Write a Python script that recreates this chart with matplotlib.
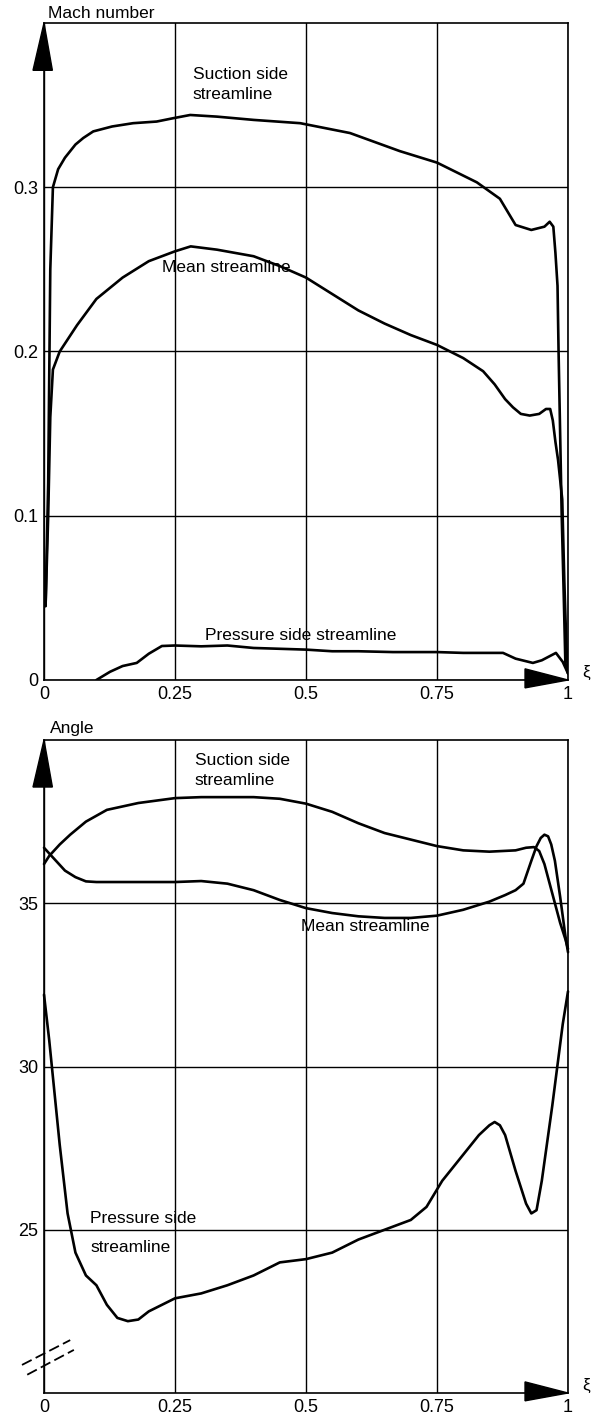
import numpy as np
import matplotlib
matplotlib.use("Agg")
import matplotlib.pyplot as plt
from matplotlib.patches import Polygon
from matplotlib.lines import Line2D

plt.rcParams['font.family'] = ['Liberation Sans', 'DejaVu Sans']

# ---------------- data: Mach number ----------------
mach_suction_x = [0.003, 0.008, 0.012, 0.017, 0.027, 0.04, 0.06, 0.075, 0.094, 0.13, 0.17,
                  0.215, 0.246, 0.279, 0.33, 0.4, 0.489, 0.584, 0.679, 0.75, 0.826, 0.87,
                  0.885, 0.9, 0.93, 0.955, 0.965, 0.972, 0.976, 0.98, 0.982, 0.985, 0.988,
                  0.992, 0.995, 1.0]
mach_suction_y = [0.045, 0.12, 0.25, 0.30, 0.311, 0.318, 0.326, 0.330, 0.334, 0.337, 0.339,
                  0.340, 0.342, 0.344, 0.343, 0.341, 0.339, 0.333, 0.322, 0.315, 0.303, 0.293,
                  0.285, 0.277, 0.274, 0.276, 0.279, 0.276, 0.26, 0.24, 0.20, 0.15, 0.10,
                  0.05, 0.01, 0.004]

mach_mean_x = [0.003, 0.008, 0.012, 0.017, 0.03, 0.063, 0.1, 0.15, 0.2, 0.25, 0.28, 0.33,
               0.4, 0.45, 0.5, 0.55, 0.6, 0.65, 0.7, 0.75, 0.775, 0.8, 0.838, 0.86, 0.88,
               0.895, 0.91, 0.927, 0.945, 0.958, 0.966, 0.971, 0.976, 0.981, 0.989, 0.993,
               0.997, 1.0]
mach_mean_y = [0.045, 0.10, 0.16, 0.189, 0.200, 0.216, 0.232, 0.245, 0.255, 0.261, 0.264, 0.262,
               0.258, 0.252, 0.245, 0.235, 0.225, 0.217, 0.210, 0.204, 0.200, 0.196, 0.188,
               0.180, 0.171, 0.166, 0.162, 0.161, 0.162, 0.165, 0.165, 0.158, 0.145, 0.134,
               0.110, 0.06, 0.02, 0.005]

mach_pressure_x = [0.1, 0.126, 0.15, 0.177, 0.2, 0.225, 0.25, 0.3, 0.35, 0.4, 0.45, 0.5, 0.55,
                   0.6, 0.666, 0.75, 0.8, 0.85, 0.876, 0.9, 0.933, 0.95, 0.965, 0.977, 0.99, 1.0]
mach_pressure_y = [0.0, 0.005, 0.0085, 0.0104, 0.016, 0.0207, 0.021, 0.0205, 0.021, 0.0195,
                   0.019, 0.0185, 0.0175, 0.0175, 0.017, 0.017, 0.0165, 0.0165, 0.0165, 0.013,
                   0.0104, 0.012, 0.0145, 0.0165, 0.011, 0.004]

# ---------------- data: Angle ----------------
ang_suction_x = [0, 0.01, 0.03, 0.05, 0.08, 0.12, 0.18, 0.25, 0.3, 0.35, 0.4, 0.45, 0.5,
                 0.55, 0.6, 0.65, 0.7, 0.75, 0.8, 0.85, 0.9, 0.92, 0.935, 0.945, 0.955,
                 0.965, 0.975, 0.985, 0.995, 1.0]
ang_suction_y = [36.2, 36.45, 36.8, 37.1, 37.5, 37.86, 38.07, 38.22, 38.25, 38.25, 38.25, 38.2,
                 38.05, 37.8, 37.45, 37.15, 36.95, 36.75, 36.62, 36.58, 36.62, 36.7, 36.72,
                 36.6, 36.2, 35.6, 35.0, 34.4, 33.9, 33.6]

ang_mean_x = [0, 0.02, 0.04, 0.06, 0.08, 0.1, 0.15, 0.2, 0.25, 0.3, 0.35, 0.4, 0.45, 0.5,
              0.55, 0.6, 0.65, 0.7, 0.75, 0.8, 0.85, 0.88, 0.9, 0.915, 0.93, 0.94, 0.948,
              0.955, 0.962, 0.968, 0.975, 0.985, 0.995, 1.0]
ang_mean_y = [36.7, 36.35, 36.0, 35.8, 35.67, 35.65, 35.65, 35.65, 35.65, 35.68, 35.6, 35.4,
              35.1, 34.85, 34.7, 34.6, 34.55, 34.55, 34.62, 34.8, 35.05, 35.25, 35.4, 35.6,
              36.3, 36.75, 37.0, 37.1, 37.05, 36.8, 36.3, 35.2, 34.0, 33.5]

ang_pressure_x = [0, 0.01, 0.02, 0.03, 0.045, 0.06, 0.08, 0.1, 0.12, 0.14, 0.16, 0.18, 0.2,
                  0.25, 0.3, 0.35, 0.4, 0.45, 0.5, 0.55, 0.6, 0.65, 0.7, 0.73, 0.76, 0.8,
                  0.83, 0.85, 0.86, 0.87, 0.88, 0.9, 0.92, 0.93, 0.94, 0.95, 0.97, 0.99, 1.0]
ang_pressure_y = [32.2, 30.8, 29.2, 27.6, 25.5, 24.3, 23.6, 23.3, 22.7, 22.3, 22.2, 22.25,
                  22.5, 22.9, 23.05, 23.3, 23.6, 24.0, 24.1, 24.3, 24.7, 25.0, 25.3, 25.7,
                  26.5, 27.3, 27.9, 28.2, 28.3, 28.2, 27.9, 26.8, 25.8, 25.5, 25.6, 26.5,
                  28.8, 31.3, 32.3]

x_ticks = [0, 0.25, 0.5, 0.75, 1]
x_ticklabels = ['0', '0.25', '0.5', '0.75', '1']
mach_ticks = [0, 0.1, 0.2, 0.3]
mach_ticklabels = ['0', '0.1', '0.2', '0.3']
ang_ticks = [25, 30, 35]
ang_ticklabels = ['25', '30', '35']

# ---------------- figure ----------------
W, H = 593, 1414
fig = plt.figure(figsize=(W / 100, H / 100), dpi=100)
L, R = 44, 568
ax1 = fig.add_axes([L / W, 1 - 680 / H, (R - L) / W, (680 - 23) / H])
ax2 = fig.add_axes([L / W, 1 - 1393 / H, (R - L) / W, (1393 - 740) / H])

CURVE_LW = 1.9
GRID_LW = 1.0
TICK_FS = 13
LABEL_FS = 12.5


def style(ax, ylim, yticks, ylabels):
    ax.set_xlim(0, 1)
    ax.set_ylim(*ylim)
    ax.set_xticks(x_ticks)
    ax.set_xticklabels(x_ticklabels, fontsize=TICK_FS)
    ax.set_yticks(yticks)
    ax.set_yticklabels(ylabels, fontsize=TICK_FS)
    ax.tick_params(length=0, pad=4)
    ax.grid(True, color='black', lw=GRID_LW)
    ax.set_axisbelow(True)
    for s in ax.spines.values():
        s.set_linewidth(1.2)
        s.set_color('black')
    # y arrow head at top-left
    ax.add_patch(Polygon([(0, 1), (-0.021, 1 - 0.072), (0.016, 1 - 0.072)], closed=True,
                         transform=ax.transAxes, color='black', clip_on=False, zorder=5))
    # x arrow head at bottom-right
    ax.add_patch(Polygon([(1, 0), (1 - 0.082, 0.017), (1 - 0.082, -0.012)], closed=True,
                         transform=ax.transAxes, color='black', clip_on=False, zorder=5))
    ax.text(1.028, 0.012, 'ξ', transform=ax.transAxes, fontsize=LABEL_FS,
            ha='left', va='center')


style(ax1, (0, 0.4), mach_ticks, mach_ticklabels)
style(ax2, (20, 40), ang_ticks, ang_ticklabels)

for xs, ys in [(mach_suction_x, mach_suction_y), (mach_mean_x, mach_mean_y),
               (mach_pressure_x, mach_pressure_y)]:
    ax1.plot(xs, ys, color='black', lw=CURVE_LW, solid_joinstyle='round',
             solid_capstyle='round', zorder=4)
for xs, ys in [(ang_suction_x, ang_suction_y), (ang_mean_x, ang_mean_y),
               (ang_pressure_x, ang_pressure_y)]:
    ax2.plot(xs, ys, color='black', lw=CURVE_LW, solid_joinstyle='round',
             solid_capstyle='round', zorder=4, clip_on=False)

# axis titles
ax1.text(0.008, 1.014, 'Mach number', transform=ax1.transAxes, fontsize=LABEL_FS,
         ha='left', va='center')
ax2.text(0.011, 1.018, 'Angle', transform=ax2.transAxes, fontsize=LABEL_FS,
         ha='left', va='center')

# curve labels
ax1.text(0.284, 0.373, 'Suction side\nstreamline', fontsize=LABEL_FS, ha='left', va='top',
         linespacing=1.4)
ax1.text(0.225, 0.251, 'Mean streamline', fontsize=LABEL_FS, ha='left', va='center')
ax1.text(0.307, 0.027, 'Pressure side streamline', fontsize=LABEL_FS, ha='left',
         va='center')

ax2.text(0.288, 39.6, 'Suction side\nstreamline', fontsize=LABEL_FS, ha='left', va='top',
         linespacing=1.4)
ax2.text(0.49, 34.3, 'Mean streamline', fontsize=LABEL_FS, ha='left', va='center')
ax2.text(0.088, 25.35, 'Pressure side', fontsize=LABEL_FS, ha='left', va='center')
ax2.text(0.088, 24.45, 'streamline', fontsize=LABEL_FS, ha='left', va='center')

# axis break marks
for (x0, y0, x1, y1) in [(-0.042, 0.043, 0.050, 0.081), (-0.032, 0.028, 0.057, 0.066)]:
    ax2.add_line(Line2D([x0, x1], [y0, y1], transform=ax2.transAxes, color='black',
                        lw=1.3, linestyle=(0, (6, 2.5)), clip_on=False))

fig.savefig('out.png', dpi=100)
